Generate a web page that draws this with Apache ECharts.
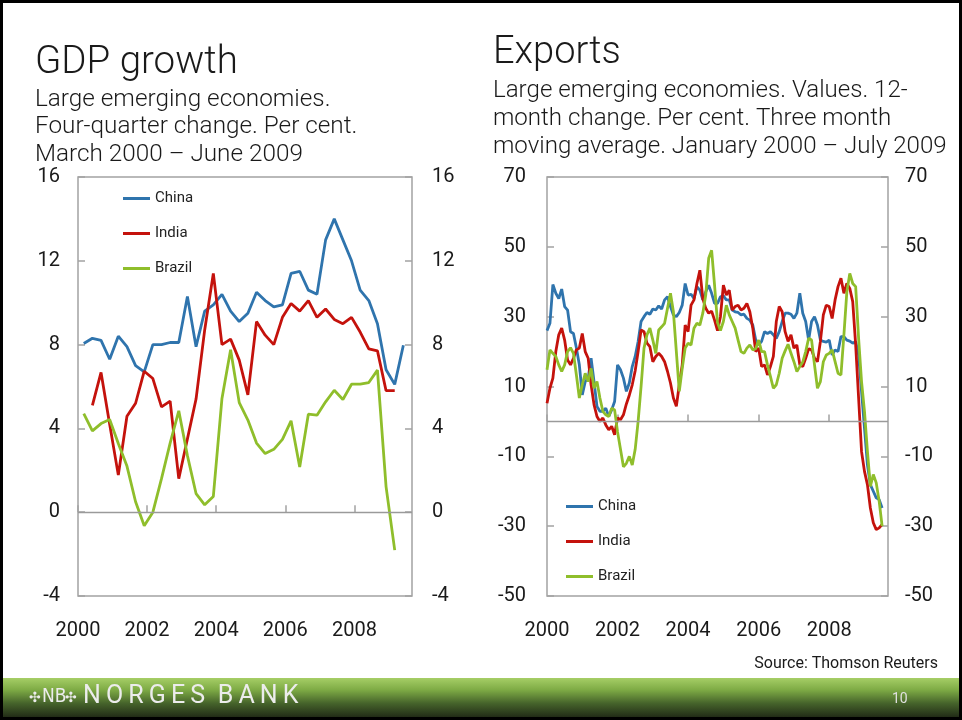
<!DOCTYPE html>
<html><head><meta charset="utf-8">
<script src="https://cdn.jsdelivr.net/npm/echarts@6/dist/echarts.min.js"></script>
<style>html,body{margin:0;padding:0;background:#fff}#c{width:962px;height:720px}</style>
</head><body><div id="c"></div>
<script>
// ---------- GDP growth (quarterly, four-quarter change, per cent) ----------
const gdpQuarters = ['2000-03','2000-06','2000-09','2000-12','2001-03','2001-06','2001-09','2001-12',
  '2002-03','2002-06','2002-09','2002-12','2003-03','2003-06','2003-09','2003-12',
  '2004-03','2004-06','2004-09','2004-12','2005-03','2005-06','2005-09','2005-12',
  '2006-03','2006-06','2006-09','2006-12','2007-03','2007-06','2007-09','2007-12',
  '2008-03','2008-06','2008-09','2008-12','2009-03','2009-06'];
const gdpChina  = [8.05,8.3,8.2,7.3,8.4,7.9,7.0,6.7,8.0,8.0,8.1,8.1,10.3,7.9,9.6,9.9,10.4,9.6,9.1,9.5,
  10.5,10.1,9.8,9.9,11.4,11.5,10.6,10.4,13.0,14.0,13.0,12.0,10.6,10.1,9.0,6.8,6.1,7.97];
const gdpIndia  = [null,5.1,6.67,4.2,1.77,4.58,5.2,6.73,6.38,5.03,5.3,1.6,3.5,5.4,8.7,11.4,8.0,8.26,7.26,5.6,
  9.1,8.45,8.0,9.3,9.96,9.6,10.1,9.3,9.7,9.2,9.0,9.3,8.6,7.8,7.7,5.8,5.8,null];
const gdpBrazil = [4.71,3.88,4.23,4.42,3.28,2.2,0.5,-0.65,0.0,1.6,3.3,4.84,2.7,0.89,0.35,0.75,5.43,7.75,5.23,4.4,
  3.3,2.8,3.0,3.48,4.36,2.16,4.68,4.63,5.27,5.82,5.38,6.11,6.11,6.19,6.78,1.21,-1.81,null];

// ---------- Exports (monthly, Jan 2000 - Jul 2009, 12-month change, 3m MA) ----------
const expStartYear = 2000;   // first month: January 2000
const expChina = [26,28.1,39.2,36.7,35.2,37.9,32.9,31.9,25.7,25.2,21,16.2,7.6,11.4,12.4,18.1,11.4,4.3,2.9,2.9,
  3.8,1.4,3.3,5.7,16.2,14.8,12.4,8.6,11,15.7,18.6,22.9,28.6,30,31.2,30.7,32.2,31.9,33.1,32.2,
  34.8,35.7,32.9,30.5,30,31.2,33.3,39.5,36.2,36.4,35.2,38.6,37.6,34.8,37.1,39,36.7,33.8,33.8,35.7,
  36,34.8,34.8,31.9,31.4,31.2,30.5,30.7,29.5,29,27.6,23.3,21.9,22.9,25.7,25.2,25.7,24.8,23.8,25.7,
  28.6,31,31,30.7,29.5,31,36.7,31,28.6,23.3,28.6,30,27.6,23.3,22.9,22.7,23.3,19,20.5,20,
  24.3,24.3,23.3,23,22.4,22.9,19,8.6,-1.9,-12.4,-18.1,-20,-21.9,-22.4,-24.8];
const expIndia = [5.2,9.5,12.4,20,24.8,26.7,23.3,17.6,16.2,18.1,20.5,21,25.2,20,18.1,10.5,4.8,1.4,0,1,
  -1,-2.4,-1.4,-3.8,1,0.5,1.9,5,7.5,10.5,14.5,20,26.2,25.7,22.4,21.4,17.1,18.6,19.5,18.6,
  17.1,14.3,11,6.7,4.3,10.5,16.2,27.6,25.7,33.3,34.8,39.5,43.3,35.2,32.4,31,31.6,29,26,30,
  39,36.2,37.6,31.9,32.9,33.3,31.9,32.4,33.8,31.4,26.7,20,21,15.7,16.2,13.3,15.7,18.6,28.6,32.9,
  31.4,25.7,22.9,24.8,21,21.9,16.2,15.7,18.1,20.8,20.5,18.1,17.1,22.9,30.5,33.3,32.9,29.5,34.8,38.6,
  41,36.7,39.5,38.1,34.3,21.9,6.7,-8.6,-14.3,-18.1,-24.8,-29,-31,-30.5,-29.5];
const expBrazil = [14.8,20.5,19.5,18.6,16.2,14.3,16.2,20,21.1,19.5,13.3,6.7,10.5,13.8,11.4,15.2,9.5,11.4,6.7,2.9,
  1.9,1.4,3.8,3.3,-3,-8,-13,-12,-10,-12.5,-8,0,10,21,24.8,26.7,23.3,19.5,26.2,27.1,
  28.1,32.4,36.7,31.4,20,8.6,15.2,21,22.4,21.9,26.7,28.1,27.6,31,36.2,46.7,49,39,28.3,26,
  28.6,33.3,30.5,28.6,26.7,23.3,20,19.5,21,21.9,20.5,20.8,23.3,20,20,16.2,12.9,9.5,10.5,13.8,
  18.1,20.2,22.1,19.5,17.1,14.3,15.7,17,20,23.8,23.3,16.2,9.5,11.4,17.1,19,19.5,20.5,17.1,13.8,
  13.3,24.8,37.1,42.4,39.5,38.6,23.8,11.4,2.9,-8.6,-18.6,-15.2,-17.6,-22.9,-30];

const seriesNames = ['China','India','Brazil'];
const seriesColors = ['#2f74ad','#c4120c','#8fbe2b'];
const xYearTicks = [2000,2002,2004,2006,2008];

// ---------- helpers ----------
function qToX(s){ const [y,m]=s.split('-').map(Number); return y+(m-1)/12; }
function pairQ(vals){ return vals.map((v,i)=>[qToX(gdpQuarters[i]), v]); }
function pairM(vals){ return vals.map((v,i)=>[expStartYear + i/12, v]); }

const FONT = 'Roboto';
const TXT = '#1a1a1a';
const GRID_BORDER = '#a3a3a3';

function xAxisDef(gi){
  return { type:'value', gridIndex:gi, min:2000, max:2009+8/12, interval:2,
    axisLine:{show:false}, splitLine:{show:false},
    axisTick:{show:true, inside:true, length:7, lineStyle:{color:GRID_BORDER, width:1.5}},
    axisLabel:{ margin:25, fontSize:20, color:TXT, fontFamily:FONT, showMaxLabel:false,
      formatter:v => xYearTicks.indexOf(Math.round(v*1000)/1000)>=0 ? String(v) : '' } };
}
function yAxisDef(gi, pos, min, max, interval, margin){
  return { type:'value', gridIndex:gi, position:pos, min, max, interval,
    axisLine:{show:false}, splitLine:{show:false},
    axisTick:{show:true, inside:true, length:7, lineStyle:{color:GRID_BORDER, width:1.5}},
    axisLabel:{ margin, fontSize:20, color:TXT, fontFamily:FONT } };
}
function lineSeries(name, idx, data, xi, yi, withZero){
  const s = { name, type:'line', xAxisIndex:xi, yAxisIndex:yi, data, showSymbol:false, symbol:'none',
    connectNulls:false, lineStyle:{width:2.8, color:seriesColors[idx]}, itemStyle:{color:seriesColors[idx]},
    emphasis:{disabled:true}, z:2+idx };
  if (withZero) s.markLine = { silent:true, symbol:'none', label:{show:false}, animation:false,
    lineStyle:{color:'#9a9a9a', width:1.3, type:'solid'}, data:[{yAxis:0}] };
  return s;
}

const chart = echarts.init(document.getElementById('c'), null, {renderer:'canvas'});
const legendCommon = { orient:'vertical', icon:'rect', itemWidth:27, itemHeight:3, itemGap:18, padding:0,
  selectedMode:false, data:seriesNames,
  textStyle:{fontSize:15, color:'#222', fontFamily:FONT, lineHeight:17} };

chart.setOption({
  animation:false,
  backgroundColor:'#ffffff',
  grid:[
    {left:78, right:550, top:177, bottom:124, show:true, borderColor:GRID_BORDER, borderWidth:1.5, backgroundColor:'transparent'},
    {left:547, right:74, top:177, bottom:124, show:true, borderColor:GRID_BORDER, borderWidth:1.5, backgroundColor:'transparent'}
  ],
  xAxis:[ xAxisDef(0), xAxisDef(1) ],
  yAxis:[
    yAxisDef(0,'left',-4,16,4,18), yAxisDef(0,'right',-4,16,4,20),
    yAxisDef(1,'left',-50,70,20,21), yAxisDef(1,'right',-50,70,20,17)
  ],
  legend:[
    Object.assign({left:123, top:190}, legendCommon),
    Object.assign({left:566, top:498}, legendCommon)
  ],
  series:[
    lineSeries('China',0,pairQ(gdpChina),0,0,true),
    lineSeries('India',1,pairQ(gdpIndia),0,0,false),
    lineSeries('Brazil',2,pairQ(gdpBrazil),0,0,false),
    lineSeries('China',0,pairM(expChina),1,2,true),
    lineSeries('India',1,pairM(expIndia),1,2,false),
    lineSeries('Brazil',2,pairM(expBrazil),1,2,false)
  ],
  graphic:[
    {type:'text', left:35, top:44, style:{text:'GDP growth', fontSize:38.5, fontWeight:300, fontFamily:FONT, fill:TXT}},
    {type:'text', left:35, top:86, style:{text:'Large emerging economies.\nFour-quarter change. Per cent.\nMarch 2000 – June 2009',
      fontSize:24.3, lineHeight:27.5, fontWeight:300, fontFamily:FONT, fill:TXT}},
    {type:'text', left:493, top:34, style:{text:'Exports', fontSize:38, fontWeight:300, fontFamily:FONT, fill:TXT}},
    {type:'text', left:493, top:77, style:{text:'Large emerging economies. Values. 12-\nmonth change. Per cent. Three month\nmoving average. January 2000 – July 2009',
      fontSize:24.1, lineHeight:28, fontWeight:300, fontFamily:FONT, fill:TXT}},
    {type:'text', right:24, top:656, style:{text:'Source: Thomson Reuters', fontSize:16, fontFamily:FONT, fill:TXT}},
    {type:'rect', shape:{x:0, y:678, width:962, height:42}, z:10,
      style:{fill:new echarts.graphic.LinearGradient(0,0,0,1,[
        {offset:0, color:'#a6ce66'},{offset:0.28, color:'#7eab45'},{offset:0.6, color:'#46642b'},{offset:1, color:'#1a2012'}])}},
    {type:'text', left:29, top:691, z:11, style:{text:'✣', fontSize:14, fontFamily:'DejaVu Sans', fill:'#ececec'}},
    {type:'text', left:42, top:688, z:11, style:{text:'NB', fontSize:19, fontFamily:'DejaVu Sans Condensed', fill:'#ececec'}},
    {type:'text', left:65, top:691, z:11, style:{text:'✣', fontSize:14, fontFamily:'DejaVu Sans', fill:'#ececec'}},
    {type:'text', left:83, top:684, z:11, style:{text:'N\u2009O\u2009R\u2009G\u2009E\u2009S\u2002B\u2009A\u2009N\u2009K', fontSize:25, fontFamily:FONT, fill:'#ececec'}},
    {type:'text', left:892, top:692, z:11, style:{text:'10', fontSize:14, fontFamily:FONT, fill:'#e0e0e0'}},
    {type:'rect', shape:{x:1.5, y:1.5, width:959, height:717}, z:20, silent:true,
      style:{fill:null, stroke:'#000', lineWidth:3}}
  ]
});
</script></body></html>
